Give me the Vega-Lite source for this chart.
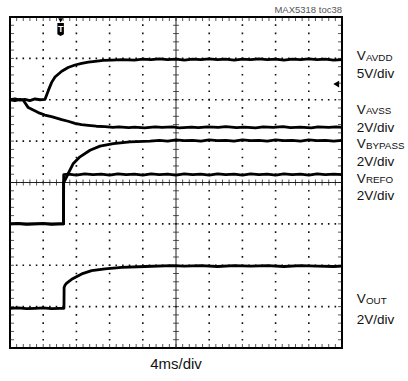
{
  "$schema": "https://vega.github.io/schema/vega-lite/v6.json",
  "width": 332,
  "height": 331,
  "autosize": {"type": "none"},
  "padding": {"left": 10, "top": 17, "right": 66, "bottom": 33},
  "background": "white",
  "config": {"view": {"stroke": "#000", "strokeWidth": 2}, "axis": {"disable": true}},
  "data": {"values": [{}]},
  "datasets": {
    "gridT": [{"t": 4}, {"t": 8}, {"t": 12}, {"t": 16}, {"t": 24}, {"t": 28}, {"t": 32}, {"t": 36}],
    "gridV": [{"v": 1}, {"v": 2}, {"v": 3}, {"v": 5}, {"v": 6}, {"v": 7}],
    "minorT": [{"t": 0}, {"t": 0.8}, {"t": 1.6}, {"t": 2.4}, {"t": 3.2}, {"t": 4}, {"t": 4.8}, {"t": 5.6}, {"t": 6.4}, {"t": 7.2}, {"t": 8}, {"t": 8.8}, {"t": 9.6}, {"t": 10.4}, {"t": 11.2}, {"t": 12}, {"t": 12.8}, {"t": 13.6}, {"t": 14.4}, {"t": 15.2}, {"t": 16}, {"t": 16.8}, {"t": 17.6}, {"t": 18.4}, {"t": 19.2}, {"t": 20}, {"t": 20.8}, {"t": 21.6}, {"t": 22.4}, {"t": 23.2}, {"t": 24}, {"t": 24.8}, {"t": 25.6}, {"t": 26.4}, {"t": 27.2}, {"t": 28}, {"t": 28.8}, {"t": 29.6}, {"t": 30.4}, {"t": 31.2}, {"t": 32}, {"t": 32.8}, {"t": 33.6}, {"t": 34.4}, {"t": 35.2}, {"t": 36}, {"t": 36.8}, {"t": 37.6}, {"t": 38.4}, {"t": 39.2}, {"t": 40}],
    "minorV": [{"v": 0}, {"v": 0.2}, {"v": 0.4}, {"v": 0.6}, {"v": 0.8}, {"v": 1}, {"v": 1.2}, {"v": 1.4}, {"v": 1.6}, {"v": 1.8}, {"v": 2}, {"v": 2.2}, {"v": 2.4}, {"v": 2.6}, {"v": 2.8}, {"v": 3}, {"v": 3.2}, {"v": 3.4}, {"v": 3.6}, {"v": 3.8}, {"v": 4}, {"v": 4.2}, {"v": 4.4}, {"v": 4.6}, {"v": 4.8}, {"v": 5}, {"v": 5.2}, {"v": 5.4}, {"v": 5.6}, {"v": 5.8}, {"v": 6}, {"v": 6.2}, {"v": 6.4}, {"v": 6.6}, {"v": 6.8}, {"v": 7}, {"v": 7.2}, {"v": 7.4}, {"v": 7.6}, {"v": 7.8}, {"v": 8}],
    "traces": [
      {"s": "AVDD", "t": 0, "v": 6.0}, {"s": "AVDD", "t": 0.6, "v": 6.02}, {"s": "AVDD", "t": 1.2, "v": 5.99}, {"s": "AVDD", "t": 1.8, "v": 6.01}, {"s": "AVDD", "t": 2.4, "v": 5.98}, {"s": "AVDD", "t": 3.0, "v": 6.02}, {"s": "AVDD", "t": 3.6, "v": 6.0}, {"s": "AVDD", "t": 4.22, "v": 6.01}, {"s": "AVDD", "t": 4.61, "v": 6.22}, {"s": "AVDD", "t": 5.02, "v": 6.42}, {"s": "AVDD", "t": 5.42, "v": 6.55}, {"s": "AVDD", "t": 6.23, "v": 6.69}, {"s": "AVDD", "t": 7.0, "v": 6.78}, {"s": "AVDD", "t": 7.83, "v": 6.84}, {"s": "AVDD", "t": 8.64, "v": 6.88}, {"s": "AVDD", "t": 9.43, "v": 6.91}, {"s": "AVDD", "t": 10.24, "v": 6.93}, {"s": "AVDD", "t": 11.2, "v": 6.95}, {"s": "AVDD", "t": 12.25, "v": 6.96}, {"s": "AVDD", "t": 13.5, "v": 6.97}, {"s": "AVDD", "t": 15, "v": 6.96}, {"s": "AVDD", "t": 16, "v": 6.98}, {"s": "AVDD", "t": 17, "v": 6.97}, {"s": "AVDD", "t": 18, "v": 6.99}, {"s": "AVDD", "t": 19, "v": 6.97}, {"s": "AVDD", "t": 20, "v": 6.98}, {"s": "AVDD", "t": 21, "v": 6.96}, {"s": "AVDD", "t": 22, "v": 6.98}, {"s": "AVDD", "t": 23, "v": 6.97}, {"s": "AVDD", "t": 24, "v": 6.99}, {"s": "AVDD", "t": 25, "v": 6.97}, {"s": "AVDD", "t": 26, "v": 6.98}, {"s": "AVDD", "t": 27, "v": 6.96}, {"s": "AVDD", "t": 28, "v": 6.98}, {"s": "AVDD", "t": 29, "v": 6.97}, {"s": "AVDD", "t": 30, "v": 6.99}, {"s": "AVDD", "t": 31, "v": 6.97}, {"s": "AVDD", "t": 32, "v": 6.98}, {"s": "AVDD", "t": 33, "v": 6.96}, {"s": "AVDD", "t": 34, "v": 6.98}, {"s": "AVDD", "t": 35, "v": 6.97}, {"s": "AVDD", "t": 36, "v": 6.99}, {"s": "AVDD", "t": 37, "v": 6.97}, {"s": "AVDD", "t": 38, "v": 6.98}, {"s": "AVDD", "t": 39, "v": 6.96}, {"s": "AVDD", "t": 40, "v": 6.97},
      {"s": "AVSS", "t": 0, "v": 6.0}, {"s": "AVSS", "t": 0.6, "v": 5.98}, {"s": "AVSS", "t": 1.2, "v": 6.01}, {"s": "AVSS", "t": 1.6, "v": 5.99}, {"s": "AVSS", "t": 2.2, "v": 5.81}, {"s": "AVSS", "t": 2.8, "v": 5.75}, {"s": "AVSS", "t": 3.41, "v": 5.69}, {"s": "AVSS", "t": 4.2, "v": 5.63}, {"s": "AVSS", "t": 5.0, "v": 5.59}, {"s": "AVSS", "t": 6.23, "v": 5.52}, {"s": "AVSS", "t": 7.0, "v": 5.48}, {"s": "AVSS", "t": 7.83, "v": 5.43}, {"s": "AVSS", "t": 8.6, "v": 5.40}, {"s": "AVSS", "t": 9.43, "v": 5.38}, {"s": "AVSS", "t": 10.4, "v": 5.36}, {"s": "AVSS", "t": 11.45, "v": 5.35}, {"s": "AVSS", "t": 12.4, "v": 5.33}, {"s": "AVSS", "t": 13.1, "v": 5.345}, {"s": "AVSS", "t": 14.3, "v": 5.325}, {"s": "AVSS", "t": 15.0, "v": 5.34}, {"s": "AVSS", "t": 16.2, "v": 5.32}, {"s": "AVSS", "t": 17.5, "v": 5.345}, {"s": "AVSS", "t": 18.3, "v": 5.33}, {"s": "AVSS", "t": 19.6, "v": 5.345}, {"s": "AVSS", "t": 20.4, "v": 5.32}, {"s": "AVSS", "t": 21.9, "v": 5.34}, {"s": "AVSS", "t": 22.7, "v": 5.325}, {"s": "AVSS", "t": 23.8, "v": 5.345}, {"s": "AVSS", "t": 25.1, "v": 5.33}, {"s": "AVSS", "t": 26.0, "v": 5.35}, {"s": "AVSS", "t": 27.3, "v": 5.325}, {"s": "AVSS", "t": 28.2, "v": 5.34}, {"s": "AVSS", "t": 29.6, "v": 5.32}, {"s": "AVSS", "t": 30.5, "v": 5.345}, {"s": "AVSS", "t": 31.7, "v": 5.33}, {"s": "AVSS", "t": 32.9, "v": 5.35}, {"s": "AVSS", "t": 33.8, "v": 5.325}, {"s": "AVSS", "t": 35.0, "v": 5.34}, {"s": "AVSS", "t": 36.3, "v": 5.32}, {"s": "AVSS", "t": 37.1, "v": 5.345}, {"s": "AVSS", "t": 38.4, "v": 5.33}, {"s": "AVSS", "t": 39.3, "v": 5.345}, {"s": "AVSS", "t": 40, "v": 5.33},
      {"s": "BYPASS", "t": 0, "v": 3.0}, {"s": "BYPASS", "t": 1, "v": 3.01}, {"s": "BYPASS", "t": 2, "v": 2.99}, {"s": "BYPASS", "t": 3, "v": 3.0}, {"s": "BYPASS", "t": 4, "v": 3.01}, {"s": "BYPASS", "t": 5, "v": 2.99}, {"s": "BYPASS", "t": 6, "v": 3.0}, {"s": "BYPASS", "t": 6.44, "v": 3.0}, {"s": "BYPASS", "t": 6.46, "v": 4.0}, {"s": "BYPASS", "t": 6.63, "v": 4.06}, {"s": "BYPASS", "t": 7.02, "v": 4.22}, {"s": "BYPASS", "t": 7.63, "v": 4.46}, {"s": "BYPASS", "t": 8.43, "v": 4.62}, {"s": "BYPASS", "t": 9.64, "v": 4.78}, {"s": "BYPASS", "t": 10.84, "v": 4.88}, {"s": "BYPASS", "t": 12.45, "v": 4.94}, {"s": "BYPASS", "t": 14.46, "v": 4.98}, {"s": "BYPASS", "t": 16.87, "v": 5.0}, {"s": "BYPASS", "t": 18, "v": 5.02}, {"s": "BYPASS", "t": 19, "v": 5.0}, {"s": "BYPASS", "t": 20, "v": 5.03}, {"s": "BYPASS", "t": 21, "v": 5.01}, {"s": "BYPASS", "t": 22, "v": 5.02}, {"s": "BYPASS", "t": 23, "v": 5.0}, {"s": "BYPASS", "t": 24, "v": 5.03}, {"s": "BYPASS", "t": 25, "v": 5.01}, {"s": "BYPASS", "t": 26, "v": 5.02}, {"s": "BYPASS", "t": 27, "v": 5.0}, {"s": "BYPASS", "t": 28, "v": 5.03}, {"s": "BYPASS", "t": 29, "v": 5.01}, {"s": "BYPASS", "t": 30, "v": 5.02}, {"s": "BYPASS", "t": 31, "v": 5.0}, {"s": "BYPASS", "t": 32, "v": 5.03}, {"s": "BYPASS", "t": 33, "v": 5.01}, {"s": "BYPASS", "t": 34, "v": 5.02}, {"s": "BYPASS", "t": 35, "v": 5.0}, {"s": "BYPASS", "t": 36, "v": 5.03}, {"s": "BYPASS", "t": 37, "v": 5.01}, {"s": "BYPASS", "t": 38, "v": 5.02}, {"s": "BYPASS", "t": 39, "v": 5.0}, {"s": "BYPASS", "t": 40, "v": 5.02},
      {"s": "REFO", "t": 0, "v": 3.0}, {"s": "REFO", "t": 6.45, "v": 3.0}, {"s": "REFO", "t": 6.47, "v": 4.19}, {"s": "REFO", "t": 7, "v": 4.2}, {"s": "REFO", "t": 8, "v": 4.18}, {"s": "REFO", "t": 9, "v": 4.21}, {"s": "REFO", "t": 10, "v": 4.19}, {"s": "REFO", "t": 11, "v": 4.2}, {"s": "REFO", "t": 12, "v": 4.18}, {"s": "REFO", "t": 13, "v": 4.21}, {"s": "REFO", "t": 14, "v": 4.19}, {"s": "REFO", "t": 15, "v": 4.2}, {"s": "REFO", "t": 16, "v": 4.18}, {"s": "REFO", "t": 17, "v": 4.21}, {"s": "REFO", "t": 18, "v": 4.19}, {"s": "REFO", "t": 19, "v": 4.2}, {"s": "REFO", "t": 20, "v": 4.18}, {"s": "REFO", "t": 21, "v": 4.21}, {"s": "REFO", "t": 22, "v": 4.19}, {"s": "REFO", "t": 23, "v": 4.2}, {"s": "REFO", "t": 24, "v": 4.18}, {"s": "REFO", "t": 25, "v": 4.21}, {"s": "REFO", "t": 26, "v": 4.19}, {"s": "REFO", "t": 27, "v": 4.2}, {"s": "REFO", "t": 28, "v": 4.18}, {"s": "REFO", "t": 29, "v": 4.21}, {"s": "REFO", "t": 30, "v": 4.19}, {"s": "REFO", "t": 31, "v": 4.2}, {"s": "REFO", "t": 32, "v": 4.18}, {"s": "REFO", "t": 33, "v": 4.21}, {"s": "REFO", "t": 34, "v": 4.19}, {"s": "REFO", "t": 35, "v": 4.2}, {"s": "REFO", "t": 36, "v": 4.18}, {"s": "REFO", "t": 37, "v": 4.21}, {"s": "REFO", "t": 38, "v": 4.19}, {"s": "REFO", "t": 39, "v": 4.2}, {"s": "REFO", "t": 40, "v": 4.19},
      {"s": "OUT", "t": 0, "v": 0.96}, {"s": "OUT", "t": 1, "v": 0.97}, {"s": "OUT", "t": 2, "v": 0.95}, {"s": "OUT", "t": 3, "v": 0.96}, {"s": "OUT", "t": 4, "v": 0.97}, {"s": "OUT", "t": 5, "v": 0.95}, {"s": "OUT", "t": 6, "v": 0.96}, {"s": "OUT", "t": 6.5, "v": 0.96}, {"s": "OUT", "t": 6.52, "v": 1.46}, {"s": "OUT", "t": 6.63, "v": 1.52}, {"s": "OUT", "t": 6.83, "v": 1.57}, {"s": "OUT", "t": 7.43, "v": 1.66}, {"s": "OUT", "t": 8.64, "v": 1.79}, {"s": "OUT", "t": 9.84, "v": 1.87}, {"s": "OUT", "t": 11.45, "v": 1.91}, {"s": "OUT", "t": 13.46, "v": 1.95}, {"s": "OUT", "t": 16.27, "v": 1.97}, {"s": "OUT", "t": 19.48, "v": 1.99}, {"s": "OUT", "t": 21, "v": 1.98}, {"s": "OUT", "t": 23, "v": 1.99}, {"s": "OUT", "t": 25, "v": 1.97}, {"s": "OUT", "t": 27, "v": 1.99}, {"s": "OUT", "t": 29, "v": 1.98}, {"s": "OUT", "t": 31, "v": 1.99}, {"s": "OUT", "t": 33, "v": 1.97}, {"s": "OUT", "t": 35, "v": 1.99}, {"s": "OUT", "t": 37, "v": 1.98}, {"s": "OUT", "t": 39, "v": 1.97}, {"s": "OUT", "t": 40, "v": 1.98}
    ],
    "labels": [
      {"m": "V", "s": "AVDD", "t": 41.77, "v": 6.96},
      {"m": "5V/div", "s": "", "t": 41.77, "v": 6.53},
      {"m": "V", "s": "AVSS", "t": 41.77, "v": 5.66},
      {"m": "2V/div", "s": "", "t": 41.77, "v": 5.23},
      {"m": "V", "s": "BYPASS", "t": 41.77, "v": 4.83},
      {"m": "2V/div", "s": "", "t": 41.77, "v": 4.39},
      {"m": "V", "s": "REFO", "t": 41.77, "v": 4.0},
      {"m": "2V/div", "s": "", "t": 41.77, "v": 3.57},
      {"m": "V", "s": "OUT", "t": 41.77, "v": 1.08},
      {"m": "2V/div", "s": "", "t": 41.77, "v": 0.57}
    ]
  },
  "layer": [
    {
      "data": {"name": "gridT"},
      "mark": {"type": "rule", "color": "#111", "strokeWidth": 1.6, "strokeDash": [1.6, 6.68], "strokeDashOffset": 0.8},
      "encoding": {
        "x": {"field": "t", "type": "quantitative", "scale": {"domain": [0, 40], "nice": false, "zero": false}},
        "y": {"datum": 0, "type": "quantitative", "scale": {"domain": [0, 8], "nice": false, "zero": false}},
        "y2": {"datum": 8}
      }
    },
    {
      "data": {"name": "gridV"},
      "mark": {"type": "rule", "color": "#111", "strokeWidth": 1.6, "strokeDash": [1.6, 5.04], "strokeDashOffset": 0.8},
      "encoding": {
        "y": {"field": "v", "type": "quantitative", "scale": {"domain": [0, 8], "nice": false, "zero": false}},
        "x": {"datum": 0, "type": "quantitative", "scale": {"domain": [0, 40], "nice": false, "zero": false}},
        "x2": {"datum": 40}
      }
    },
    {
      "mark": {"type": "rule", "color": "#222", "strokeWidth": 1},
      "encoding": {
        "x": {"datum": 20, "type": "quantitative", "scale": {"domain": [0, 40], "nice": false, "zero": false}},
        "y": {"datum": 0, "type": "quantitative", "scale": {"domain": [0, 8], "nice": false, "zero": false}},
        "y2": {"datum": 8}
      }
    },
    {
      "mark": {"type": "rule", "color": "#222", "strokeWidth": 1},
      "encoding": {
        "y": {"datum": 4, "type": "quantitative", "scale": {"domain": [0, 8], "nice": false, "zero": false}},
        "x": {"datum": 0, "type": "quantitative", "scale": {"domain": [0, 40], "nice": false, "zero": false}},
        "x2": {"datum": 40}
      }
    },
    {
      "data": {"name": "minorT"},
      "mark": {"type": "tick", "orient": "vertical", "size": 6, "thickness": 1, "color": "#111"},
      "encoding": {
        "x": {"field": "t", "type": "quantitative", "scale": {"domain": [0, 40], "nice": false, "zero": false}},
        "y": {"datum": 4, "type": "quantitative", "scale": {"domain": [0, 8], "nice": false, "zero": false}}
      }
    },
    {
      "data": {"name": "minorV"},
      "mark": {"type": "tick", "orient": "horizontal", "size": 6, "thickness": 1, "color": "#111"},
      "encoding": {
        "y": {"field": "v", "type": "quantitative", "scale": {"domain": [0, 8], "nice": false, "zero": false}},
        "x": {"datum": 20, "type": "quantitative", "scale": {"domain": [0, 40], "nice": false, "zero": false}}
      }
    },
    {
      "data": {"name": "minorT"},
      "mark": {"type": "tick", "orient": "vertical", "size": 4, "thickness": 1, "color": "#111", "yOffset": -2},
      "encoding": {
        "x": {"field": "t", "type": "quantitative", "scale": {"domain": [0, 40], "nice": false, "zero": false}},
        "y": {"datum": 0, "type": "quantitative", "scale": {"domain": [0, 8], "nice": false, "zero": false}}
      }
    },
    {
      "data": {"name": "minorT"},
      "mark": {"type": "tick", "orient": "vertical", "size": 4, "thickness": 1, "color": "#111", "yOffset": 2},
      "encoding": {
        "x": {"field": "t", "type": "quantitative", "scale": {"domain": [0, 40], "nice": false, "zero": false}},
        "y": {"datum": 8, "type": "quantitative", "scale": {"domain": [0, 8], "nice": false, "zero": false}}
      }
    },
    {
      "data": {"name": "minorV"},
      "mark": {"type": "tick", "orient": "horizontal", "size": 4, "thickness": 1, "color": "#111", "xOffset": 2},
      "encoding": {
        "y": {"field": "v", "type": "quantitative", "scale": {"domain": [0, 8], "nice": false, "zero": false}},
        "x": {"datum": 0, "type": "quantitative", "scale": {"domain": [0, 40], "nice": false, "zero": false}}
      }
    },
    {
      "data": {"name": "minorV"},
      "mark": {"type": "tick", "orient": "horizontal", "size": 4, "thickness": 1, "color": "#111", "xOffset": -2},
      "encoding": {
        "y": {"field": "v", "type": "quantitative", "scale": {"domain": [0, 8], "nice": false, "zero": false}},
        "x": {"datum": 40, "type": "quantitative", "scale": {"domain": [0, 40], "nice": false, "zero": false}}
      }
    },
    {
      "data": {"name": "traces"},
      "mark": {"type": "line", "color": "#000", "strokeWidth": 2.8, "strokeJoin": "round"},
      "encoding": {
        "x": {"field": "t", "type": "quantitative", "scale": {"domain": [0, 40], "nice": false, "zero": false}},
        "y": {"field": "v", "type": "quantitative", "scale": {"domain": [0, 8], "nice": false, "zero": false}},
        "detail": {"field": "s"}
      }
    },
    {
      "mark": {"type": "point", "shape": "triangle-down", "size": 24, "filled": true, "color": "#000", "opacity": 1},
      "encoding": {
        "x": {"datum": 6.1, "type": "quantitative", "scale": {"domain": [0, 40], "nice": false, "zero": false}},
        "y": {"datum": 7.92, "type": "quantitative", "scale": {"domain": [0, 8], "nice": false, "zero": false}}
      }
    },
    {
      "mark": {"type": "point", "shape": "M-0.5,-1L0.5,-1L0.5,0.75L0,1L-0.5,0.75Z", "size": 170, "filled": true, "color": "#000", "opacity": 1, "strokeWidth": 0},
      "encoding": {
        "x": {"datum": 6.1, "type": "quantitative", "scale": {"domain": [0, 40], "nice": false, "zero": false}},
        "y": {"datum": 7.7, "type": "quantitative", "scale": {"domain": [0, 8], "nice": false, "zero": false}}
      }
    },
    {
      "mark": {"type": "text", "text": "T", "color": "#fff", "fontSize": 9, "fontWeight": "bold", "font": "Liberation Sans", "baseline": "middle", "align": "center", "dy": -0.5},
      "encoding": {
        "x": {"datum": 6.1, "type": "quantitative", "scale": {"domain": [0, 40], "nice": false, "zero": false}},
        "y": {"datum": 7.7, "type": "quantitative", "scale": {"domain": [0, 8], "nice": false, "zero": false}}
      }
    },
    {
      "mark": {"type": "point", "shape": "triangle-left", "size": 45, "filled": true, "color": "#000", "opacity": 1},
      "encoding": {
        "x": {"datum": 39.3, "type": "quantitative", "scale": {"domain": [0, 40], "nice": false, "zero": false}},
        "y": {"datum": 6.38, "type": "quantitative", "scale": {"domain": [0, 8], "nice": false, "zero": false}}
      }
    },
    {
      "data": {"name": "labels"},
      "mark": {"type": "text", "align": "left", "baseline": "alphabetic", "fontSize": 13.5, "font": "Liberation Sans", "color": "#111"},
      "encoding": {
        "x": {"field": "t", "type": "quantitative", "scale": {"domain": [0, 40], "nice": false, "zero": false}},
        "y": {"field": "v", "type": "quantitative", "scale": {"domain": [0, 8], "nice": false, "zero": false}},
        "text": {"field": "m"}
      }
    },
    {
      "data": {"name": "labels"},
      "mark": {"type": "text", "align": "left", "baseline": "alphabetic", "fontSize": 9.8, "dx": 9.3, "dy": 0.5, "font": "Liberation Sans", "color": "#111"},
      "encoding": {
        "x": {"field": "t", "type": "quantitative", "scale": {"domain": [0, 40], "nice": false, "zero": false}},
        "y": {"field": "v", "type": "quantitative", "scale": {"domain": [0, 8], "nice": false, "zero": false}},
        "text": {"field": "s"}
      }
    },
    {
      "mark": {"type": "text", "text": "MAX5318 toc38", "align": "right", "baseline": "alphabetic", "fontSize": 9.5, "font": "Liberation Sans", "color": "#555"},
      "encoding": {
        "x": {"datum": 40, "type": "quantitative", "scale": {"domain": [0, 40], "nice": false, "zero": false}},
        "y": {"datum": 8.09, "type": "quantitative", "scale": {"domain": [0, 8], "nice": false, "zero": false}}
      }
    },
    {
      "mark": {"type": "text", "text": "4ms/div", "align": "center", "baseline": "alphabetic", "fontSize": 15, "font": "Liberation Sans", "color": "#111"},
      "encoding": {
        "x": {"datum": 20, "type": "quantitative", "scale": {"domain": [0, 40], "nice": false, "zero": false}},
        "y": {"datum": -0.51, "type": "quantitative", "scale": {"domain": [0, 8], "nice": false, "zero": false}}
      }
    }
  ]
}
